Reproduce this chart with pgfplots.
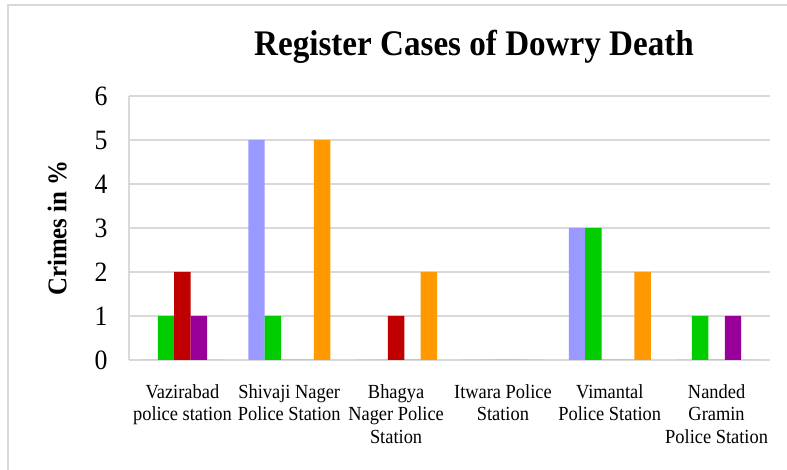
\documentclass[border=0pt]{standalone}
\usepackage{pgfplots}
\pgfplotsset{compat=1.18}
\usepackage{fontspec}
\setmainfont{Liberation Serif}[FakeStretch=0.92]
\definecolor{sBlue}{RGB}{153,153,255}
\definecolor{sGreen}{RGB}{0,204,0}
\definecolor{sRed}{RGB}{192,0,0}
\definecolor{sPurple}{RGB}{153,0,153}
\definecolor{sOrange}{RGB}{255,153,0}
\definecolor{gridgray}{RGB}{217,217,217}
\begin{document}
\begin{tikzpicture}[x=1pt,y=1pt]
\path[use as bounding box] (0,0) rectangle (787,470);
\draw[gridgray, line width=1.5pt] (8,0) -- (8,465) -- (787,465);
\node[font=\fontsize{36}{40}\selectfont\bfseries] at (474,423) {Register Cases of Dowry Death};
\begin{axis}[
  at={(129pt,110pt)}, anchor=south west,
  scale only axis, width=641pt, height=264pt,
  ybar=0pt, bar width=16.4pt,
  xmin=-0.5, xmax=5.5, ymin=0, ymax=6,
  xtick={0,...,5},
  xticklabels={{Vazirabad\\police station},{Shivaji Nager\\Police Station},{Bhagya\\Nager Police\\Station},{Itwara Police\\Station},{Vimantal\\Police Station},{Nanded\\Gramin\\Police Station}},
  xticklabel style={align=center, anchor=north, yshift=-21pt, font=\fontsize{20}{22.5}\selectfont},
  ytick={0,...,6},
  /pgf/number format/assume math mode=true,
  yticklabel style={font=\fontsize{28}{30}\selectfont, anchor=east, xshift=-18pt},
  major tick length=0pt,
  axis x line*=bottom, axis y line*=left,
  axis line style={draw=gridgray, line width=1.5pt, -},
  ymajorgrids, major grid style={draw=gridgray, line width=1.5pt},
  ylabel={Crimes in \%},
  ylabel style={at={(axis description cs:-0.112,0.5)}, anchor=center, font=\fontsize{27}{30}\selectfont\bfseries},
  clip=false,
]
\addplot[fill=sBlue, draw=none] coordinates {(0,0) (1,5) (2,0) (3,0) (4,3) (5,0)};
\addplot[fill=sGreen, draw=none] coordinates {(0,1) (1,1) (2,0) (3,0) (4,3) (5,1)};
\addplot[fill=sRed, draw=none] coordinates {(0,2) (1,0) (2,1) (3,0) (4,0) (5,0)};
\addplot[fill=sPurple, draw=none] coordinates {(0,1) (1,0) (2,0) (3,0) (4,0) (5,1)};
\addplot[fill=sOrange, draw=none] coordinates {(0,0) (1,5) (2,2) (3,0) (4,2) (5,0)};
\end{axis}
\end{tikzpicture}
\end{document}
